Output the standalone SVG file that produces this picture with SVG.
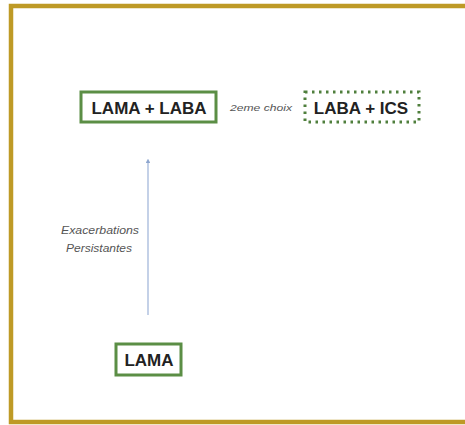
<svg xmlns="http://www.w3.org/2000/svg" width="465" height="425" viewBox="0 0 465 425">
  <style>
    .frame { fill: none; stroke: #BE9A26; stroke-width: 4.5; }
    .box { fill: #ffffff; stroke: #5B8E45; stroke-width: 3; }
    .dotted { fill: #ffffff; stroke: #4F7F3C; stroke-width: 3; stroke-dasharray: 2.5 4.5; }
    .label { font-family: "Liberation Sans", Arial, sans-serif; font-weight: bold; font-size: 17px; fill: #222222; text-anchor: middle; }
    .note { font-family: "Liberation Sans", Arial, sans-serif; font-style: italic; fill: #555555; text-anchor: middle; }
    .link { stroke: #9DB3D8; stroke-width: 1.2; fill: none; }
  </style>
  <defs>
    <marker id="head" viewBox="0 0 6 6" refX="3" refY="3" markerWidth="4" markerHeight="4" orient="auto">
      <path d="M0,0 L6,3 L0,6 z" fill="#8EA6CF"/>
    </marker>
  </defs>

  <rect width="465" height="425" fill="#ffffff"/>
  <!-- outer gold frame, open to the right edge -->
  <rect class="frame" x="11" y="6" width="470" height="416"/>

  <g id="connectors">
    <line class="link" x1="148" y1="315" x2="148" y2="161" marker-end="url(#head)"/>
    <text class="note" x="100" y="234" font-size="11" textLength="78" lengthAdjust="spacingAndGlyphs">Exacerbations</text>
    <text class="note" x="99" y="252" font-size="11" textLength="66" lengthAdjust="spacingAndGlyphs">Persistantes</text>
  </g>

  <g id="lama-laba">
    <rect class="box" x="81" y="92" width="135" height="30"/>
    <text class="label" x="149" y="114">LAMA + LABA</text>
  </g>

  <g id="choice-note">
    <text class="note" x="261" y="111" font-size="9" textLength="62" lengthAdjust="spacingAndGlyphs">2eme choix</text>
  </g>

  <g id="laba-ics">
    <rect class="dotted" x="305" y="92" width="114" height="30"/>
    <text class="label" x="361" y="114">LABA + ICS</text>
  </g>

  <g id="lama">
    <rect class="box" x="116" y="344" width="65" height="31"/>
    <text class="label" x="149" y="366">LAMA</text>
  </g>
</svg>
